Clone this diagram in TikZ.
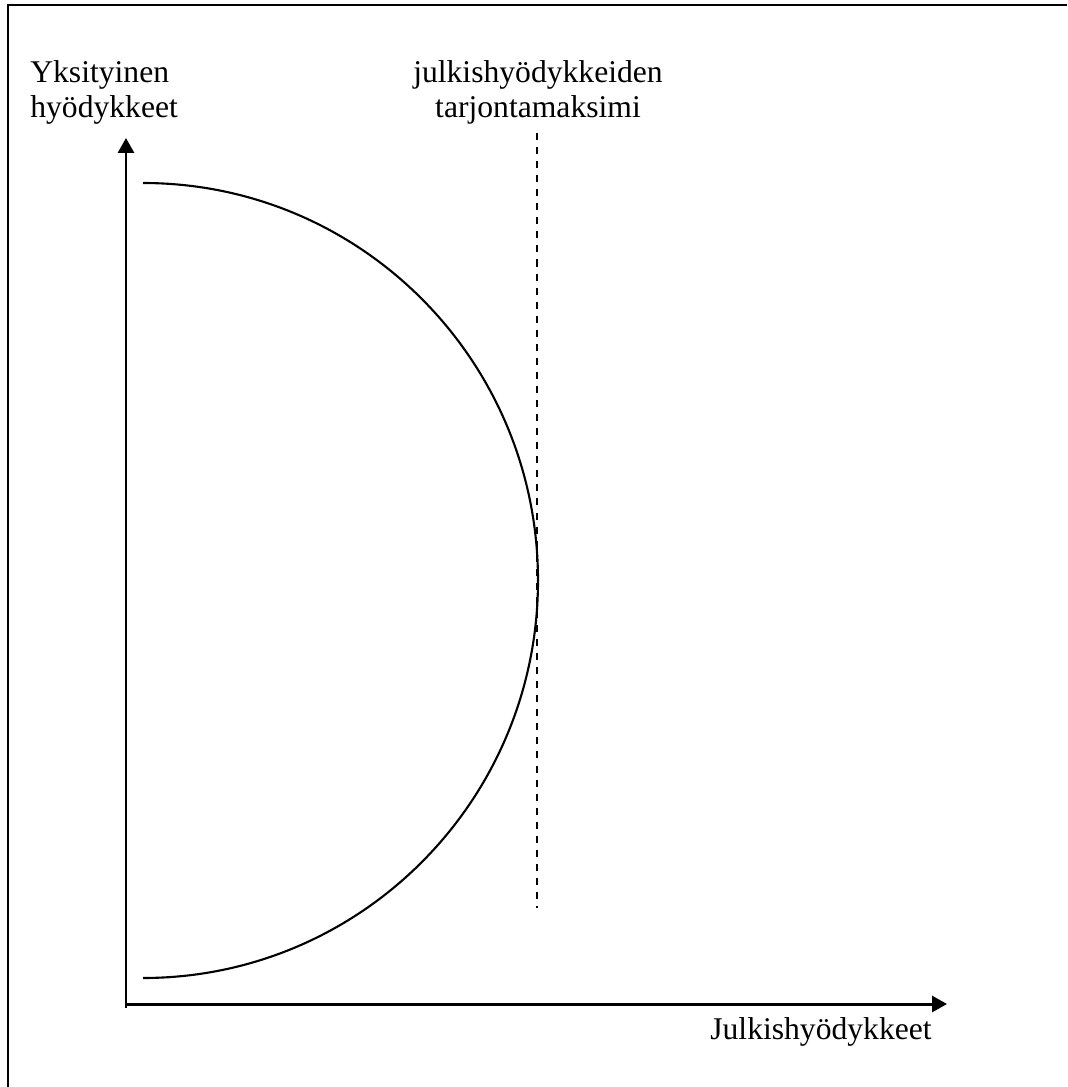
\documentclass[tikz,border=0pt]{standalone}
\usepackage{fontspec}
\setmainfont{Liberation Serif}
\usetikzlibrary{arrows.meta,positioning}

\begin{document}
\begin{tikzpicture}[
  x=0.02cm, y=-0.02cm,
  font=\fontsize{18}{20.4}\selectfont,
  frame/.style={line width=1.1pt},
  axis/.style={line width=1.7pt,-{Triangle[length=3mm,width=3.2mm]}},
  curve/.style={line width=1.2pt},
  maxline/.style={line width=0.9pt,dash pattern=on 4pt off 4pt},
  lbl/.style={inner sep=0pt,align=left},
]
% canvas
\useasboundingbox[fill=white] (0,0) rectangle (1067,1087);
\draw[frame] (8,1087) -- (8,5) -- (1067,5);
% axes
\coordinate (origin) at (126,1004);
\coordinate (ytip) at (126,138);
\coordinate (xtip) at (947,1004);
\draw[axis] (126,1008) -- (ytip);
\draw[axis] (origin) -- (xtip);
% frontier
\coordinate (ctop) at (143,183);
\draw[curve] (ctop) arc[start angle=-90,end angle=90,x radius=395,y radius=397.5];
% maximum
\coordinate (mtop) at (537,133);
\coordinate (mbot) at (537,908);
\draw[maxline] (mtop) -- (mbot);
% labels
\node[lbl,anchor=base west] (ylabel) at (30,118) {Yksityinen\\hyödykkeet};
\node[lbl,anchor=base,align=center] (maxlabel) at (538,118) {julkishyödykkeiden\\tarjontamaksimi};
\node[lbl,anchor=base west] (xlabel) at (710,1039) {Julkishyödykkeet};
\end{tikzpicture}
\end{document}
